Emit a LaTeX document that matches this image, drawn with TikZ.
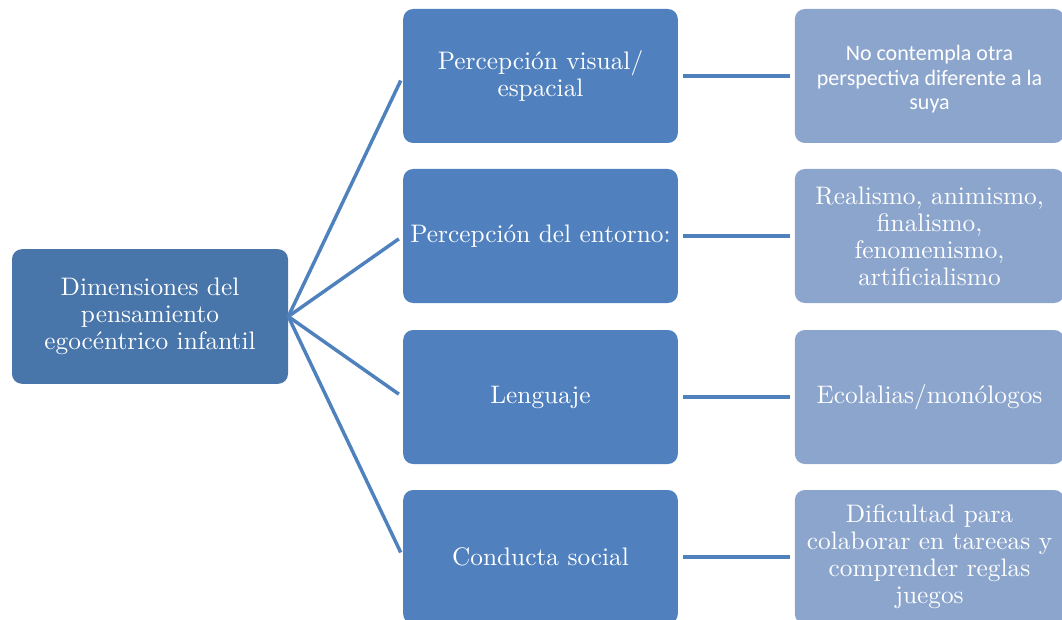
\documentclass[tikz,border=0pt]{standalone}
\usepackage{fontspec}
\newfontfamily\calibrifont{Carlito}
\newfontfamily\boxfont{lmroman10-regular.otf}
\definecolor{rootfill}{RGB}{72,117,170}
\definecolor{midfill}{RGB}{80,129,190}
\definecolor{leaffill}{RGB}{140,165,205}
\definecolor{linkcol}{RGB}{79,129,189}
\tikzset{
  txt/.style={font=\boxfont\fontsize{19}{20.3}\selectfont,text=white,align=center,inner sep=0pt},
  rootbox/.style={txt,fill=rootfill,rounded corners=7.5pt,minimum width=207pt,minimum height=101pt},
  midbox/.style={txt,fill=midfill,rounded corners=7.5pt,minimum width=206pt,minimum height=100.5pt},
  leafbox/.style={txt,fill=leaffill,rounded corners=7.5pt,minimum width=202pt,minimum height=100.5pt},
  link/.style={draw=linkcol,line width=2.6pt},
}
\begin{document}
\begin{tikzpicture}[x=0.75pt,y=-0.75pt]
  \useasboundingbox (0,0) rectangle (1062,620);
  \node[rootbox] (root) at (150,316.5) {Dimensiones del\\pensamiento\\egocéntrico infantil};
  \node[midbox] (visual) at (540.5,76) {Percepción visual/\\espacial};
  \node[midbox] (entorno) at (540.5,236) {Percepción del entorno:};
  \node[midbox] (lenguaje) at (540.5,397) {Lenguaje};
  \node[midbox] (conducta) at (540.5,557) {Conducta social};
  \node[leafbox,font=\calibrifont\fontsize{16.5}{18.4}\selectfont] (visualR) at (929.5,76) {\rule{0pt}{16.5pt}No contempla otra\\perspectiva diferente a la\\suya};
  \node[leafbox] (entornoR) at (929.5,236) {Realismo, animismo,\\finalismo,\\fenomenismo,\\artificialismo};
  \node[leafbox] (lenguajeR) at (929.5,397) {Ecolalias/monólogos};
  \node[leafbox] (conductaR) at (929.5,557) {Dificultad para\\colaborar en tareeas y\\comprender reglas\\juegos};
  \draw[link,shorten >=3.75pt] (root.east) -- (visual.west);
  \draw[link,shorten >=3.75pt] (root.east) -- (entorno.west);
  \draw[link,shorten >=3.75pt] (root.east) -- (lenguaje.west);
  \draw[link,shorten >=3.75pt] (root.east) -- (conducta.west);
  \draw[link,shorten <=4pt,shorten >=3.75pt] (visual.east) -- (visualR.west);
  \draw[link,shorten <=4pt,shorten >=3.75pt] (entorno.east) -- (entornoR.west);
  \draw[link,shorten <=4pt,shorten >=3.75pt] (lenguaje.east) -- (lenguajeR.west);
  \draw[link,shorten <=4pt,shorten >=3.75pt] (conducta.east) -- (conductaR.west);
\end{tikzpicture}
\end{document}
